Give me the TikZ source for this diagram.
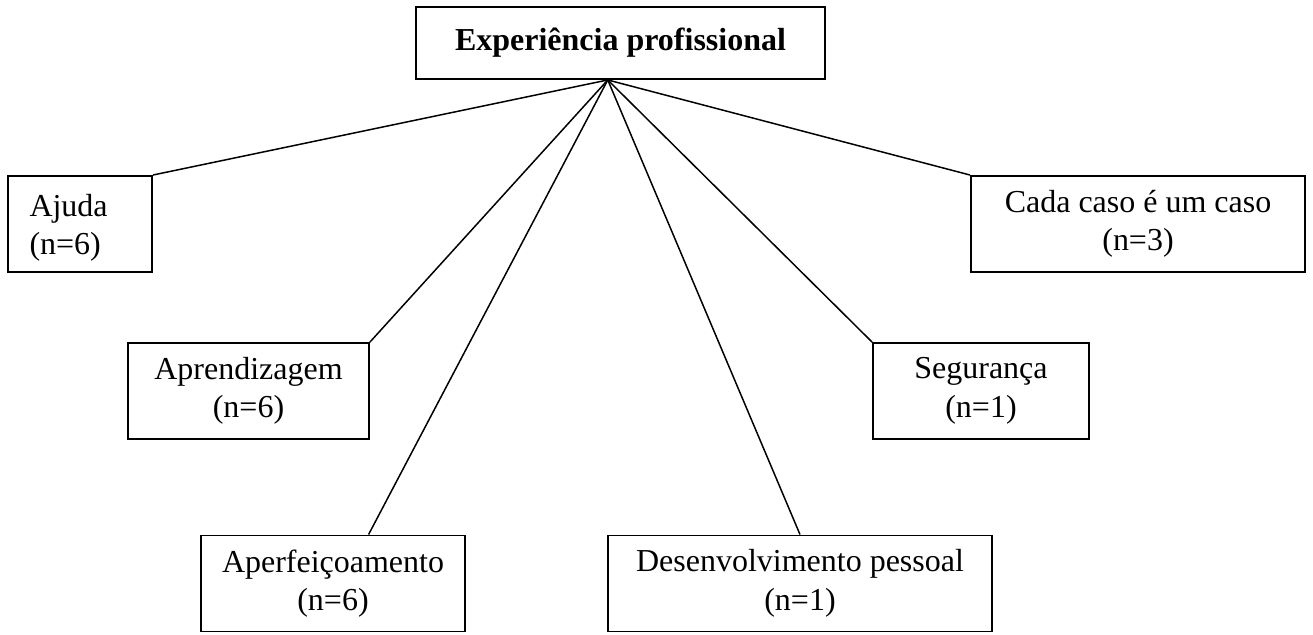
\documentclass[tikz,border=0pt]{standalone}
\usepackage{fontspec}
\setmainfont{Liberation Serif}
\usepackage{tikz}

\tikzset{
	caixa/.style={draw, line width=1.1pt, minimum height=1.92cm, align=center, inner sep=0pt,
		font=\fontsize{18.2}{21.9}\selectfont, execute at begin node={\rule{0pt}{0.6cm}}},
	titulo/.style={draw, line width=1.1pt, minimum width=8.18cm, minimum height=1.44cm, inner sep=0pt,
		font=\fontsize{18.2}{21.9}\selectfont\bfseries},
	ligacao/.style={line width=0.85pt}
}

\begin{document}
\begin{tikzpicture}

	\useasboundingbox (0,0) rectangle (26.26,12.7);

	\node[titulo] (experiencia) at (12.41,11.84) {Experiência profissional};

	\node[caixa, minimum width=2.88cm, text width=2.02cm, inner xsep=0.43cm, align=left] (ajuda) at (1.6,8.22) {Ajuda\\(n=6)};
	\node[caixa, minimum width=6.68cm] (cadacaso) at (22.76,8.22) {Cada caso é um caso\\(n=3)};

	\node[caixa, minimum width=4.82cm] (aprendizagem) at (4.97,4.88) {Aprendizagem\\(n=6)};
	\node[caixa, minimum width=4.32cm] (seguranca) at (19.62,4.88) {Segurança\\(n=1)};

	\node[caixa, minimum width=5.28cm] (aperfeicoamento) at (6.66,1.03) {Aperfeiçoamento\\(n=6)};
	\node[caixa, minimum width=7.68cm] (desenvolvimento) at (16.0,1.03) {Desenvolvimento pessoal\\(n=1)};

	\draw[ligacao] (experiencia.251) -- (ajuda.north east);
	\draw[ligacao] (experiencia.251) -- (aprendizagem.north east);
	\draw[ligacao] (experiencia.251) -- (aperfeicoamento.54);
	\draw[ligacao] (experiencia.251) -- (desenvolvimento.north);
	\draw[ligacao] (experiencia.251) -- (seguranca.north west);
	\draw[ligacao] (experiencia.251) -- (cadacaso.north west);

\end{tikzpicture}
\end{document}
